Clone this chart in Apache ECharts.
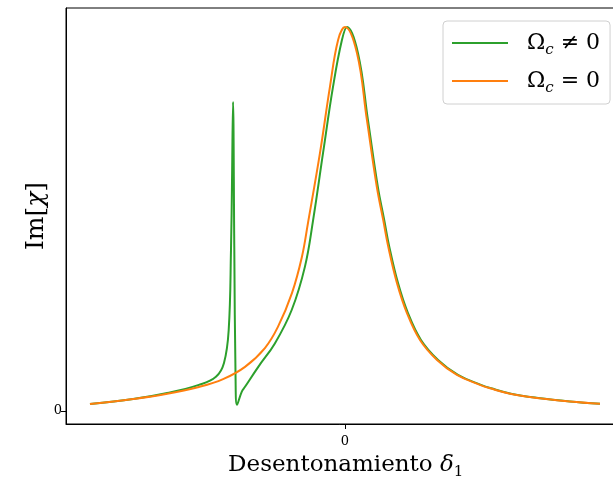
<!DOCTYPE html>
<html>
<head>
<meta charset="utf-8">
<script src="https://cdn.jsdelivr.net/npm/echarts@6/dist/echarts.min.js"></script>
<style>
  html, body { margin: 0; padding: 0; background: #fff; }
  #chart { width: 613px; height: 483px; }
</style>
</head>
<body>
<div id="chart"></div>
<script>
// Detuning values (x) and absorption Im[chi] (y), Omega_c != 0 (with coupling field)
const coupledX = [-10.0, -8.31, -7.02, -5.73, -5.06, -4.745, -4.56, -4.47, -4.43, -4.39,
  -4.34, -4.29, -4.235, -4.05, -3.92, -3.40, -2.75, -2.09, -1.57, -1.25, -0.86, -0.47, -0.12, 0.08,
  0.51, 0.90, 1.29, 1.54, 1.73, 2.08, 2.47, 2.98, 3.65, 4.43, 5.33, 5.73, 6.51, 7.57, 8.82, 10.0];
const coupledY = [0.018, 0.031, 0.046, 0.068, 0.089, 0.125, 0.211, 0.420, 0.600, 0.805,
  0.420, 0.081, 0.016, 0.050, 0.063, 0.115, 0.176, 0.263, 0.376, 0.497, 0.672, 0.844, 0.966, 1.0,
  0.932, 0.758, 0.583, 0.497, 0.430, 0.333, 0.255, 0.185, 0.133, 0.094, 0.068, 0.059, 0.045, 0.034, 0.025, 0.019];

// Omega_c = 0 (bare two-level line)
const bareX = [-10.0, -8.31, -7.02, -5.73, -4.78, -3.92, -3.14, -2.63, -2.08, -1.69, -1.45, -0.98,
  -0.59, -0.27, 0.0, 0.47, 0.86, 1.25, 1.50, 1.69, 2.04, 2.43, 2.94, 3.61, 4.39, 5.29, 5.69, 6.47,
  7.53, 8.82, 10.0];
const bareY = [0.018, 0.031, 0.044, 0.0625, 0.083, 0.115, 0.164, 0.219, 0.307, 0.401, 0.49, 0.672,
  0.844, 0.966, 1.0, 0.932, 0.758, 0.583, 0.497, 0.430, 0.333, 0.255, 0.185, 0.133, 0.094, 0.068,
  0.059, 0.045, 0.034, 0.025, 0.019];

const xTicks = [0];
const yTicks = [0];
const seriesNames = ['\u03a9c \u2260 0', '\u03a9c = 0'];

const pair = (xs, ys) => xs.map((x, i) => [x, ys[i]]);

const serif = '"DejaVu Serif", "Liberation Serif", serif';

const chart = echarts.init(document.getElementById('chart'), null, { renderer: 'canvas' });

const legendRich = {
  o: { fontFamily: serif, fontSize: 22, color: '#000', lineHeight: 30, padding: [0, 0, 0, 14] },
  s: { fontFamily: serif, fontSize: 15, fontStyle: 'italic', color: '#000', lineHeight: 14, verticalAlign: 'bottom' },
  t: { fontFamily: serif, fontSize: 22, color: '#000', lineHeight: 30 }
};

chart.setOption({
  animation: false,
  backgroundColor: '#fff',
  grid: {
    left: 66, top: 8, width: 559.5, height: 416,
    outerBoundsMode: 'none', containLabel: false,
    show: true, borderColor: '#000', borderWidth: 1, backgroundColor: 'transparent'
  },
  legend: {
    left: 443, top: 21,
    orient: 'vertical',
    icon: 'rect', itemWidth: 56, itemHeight: 2, itemGap: 12,
    padding: [11, 10, 8, 9],
    backgroundColor: 'rgba(255,255,255,0.85)',
    borderColor: '#d0d0d0', borderWidth: 1, borderRadius: 4,
    data: seriesNames,
    formatter: function (name) {
      const rest = name.slice(2);
      return '{o|\u03a9}{s|c}{t|' + rest + '}';
    },
    textStyle: { rich: legendRich }
  },
  xAxis: {
    type: 'value', min: -10.94, max: 11,
    name: '{a|Desentonamiento }{b|\u03b4}{c|1}',
    nameLocation: 'middle', nameGap: 26, nameMoveOverlap: false,
    nameTextStyle: {
      rich: {
        a: { fontFamily: serif, fontSize: 23, color: '#000', lineHeight: 30 },
        b: { fontFamily: serif, fontSize: 23, fontStyle: 'italic', color: '#000', lineHeight: 30 },
        c: { fontFamily: serif, fontSize: 15, color: '#000', lineHeight: 14, verticalAlign: 'bottom' }
      }
    },
    axisLine: { show: true, onZero: false, lineStyle: { color: '#000', width: 1 } },
    axisTick: { show: true, customValues: xTicks, length: 5, lineStyle: { color: '#000' } },
    axisLabel: { customValues: xTicks, fontFamily: serif, fontSize: 13, color: '#000', margin: 11 },
    splitLine: { show: false }
  },
  yAxis: {
    type: 'value', min: -0.0339, max: 1.0495,
    name: '{a|Im[}{b|\u03c7}{a|]}',
    nameLocation: 'middle', nameGap: 17, nameRotate: 90, nameMoveOverlap: false,
    nameTextStyle: {
      rich: {
        a: { fontFamily: serif, fontSize: 25, color: '#000' },
        b: { fontFamily: serif, fontSize: 25, fontStyle: 'italic', color: '#000' }
      }
    },
    axisLine: { show: true, onZero: false, lineStyle: { color: '#000', width: 1 } },
    axisTick: { show: true, customValues: yTicks, length: 5, lineStyle: { color: '#000' } },
    axisLabel: { customValues: yTicks, fontFamily: serif, fontSize: 13, color: '#000', margin: 4 },
    splitLine: { show: false }
  },
  series: [
    {
      name: seriesNames[0], type: 'line', data: pair(coupledX, coupledY),
      showSymbol: false, smooth: 0.4, clip: true,
      lineStyle: { color: '#2ca02c', width: 2 }, itemStyle: { color: '#2ca02c' }, z: 2
    },
    {
      name: seriesNames[1], type: 'line', data: pair(bareX, bareY),
      showSymbol: false, smooth: 0.4, clip: true,
      lineStyle: { color: '#ff7f0e', width: 2 }, itemStyle: { color: '#ff7f0e' }, z: 3
    }
  ]
});
</script>
</body>
</html>
